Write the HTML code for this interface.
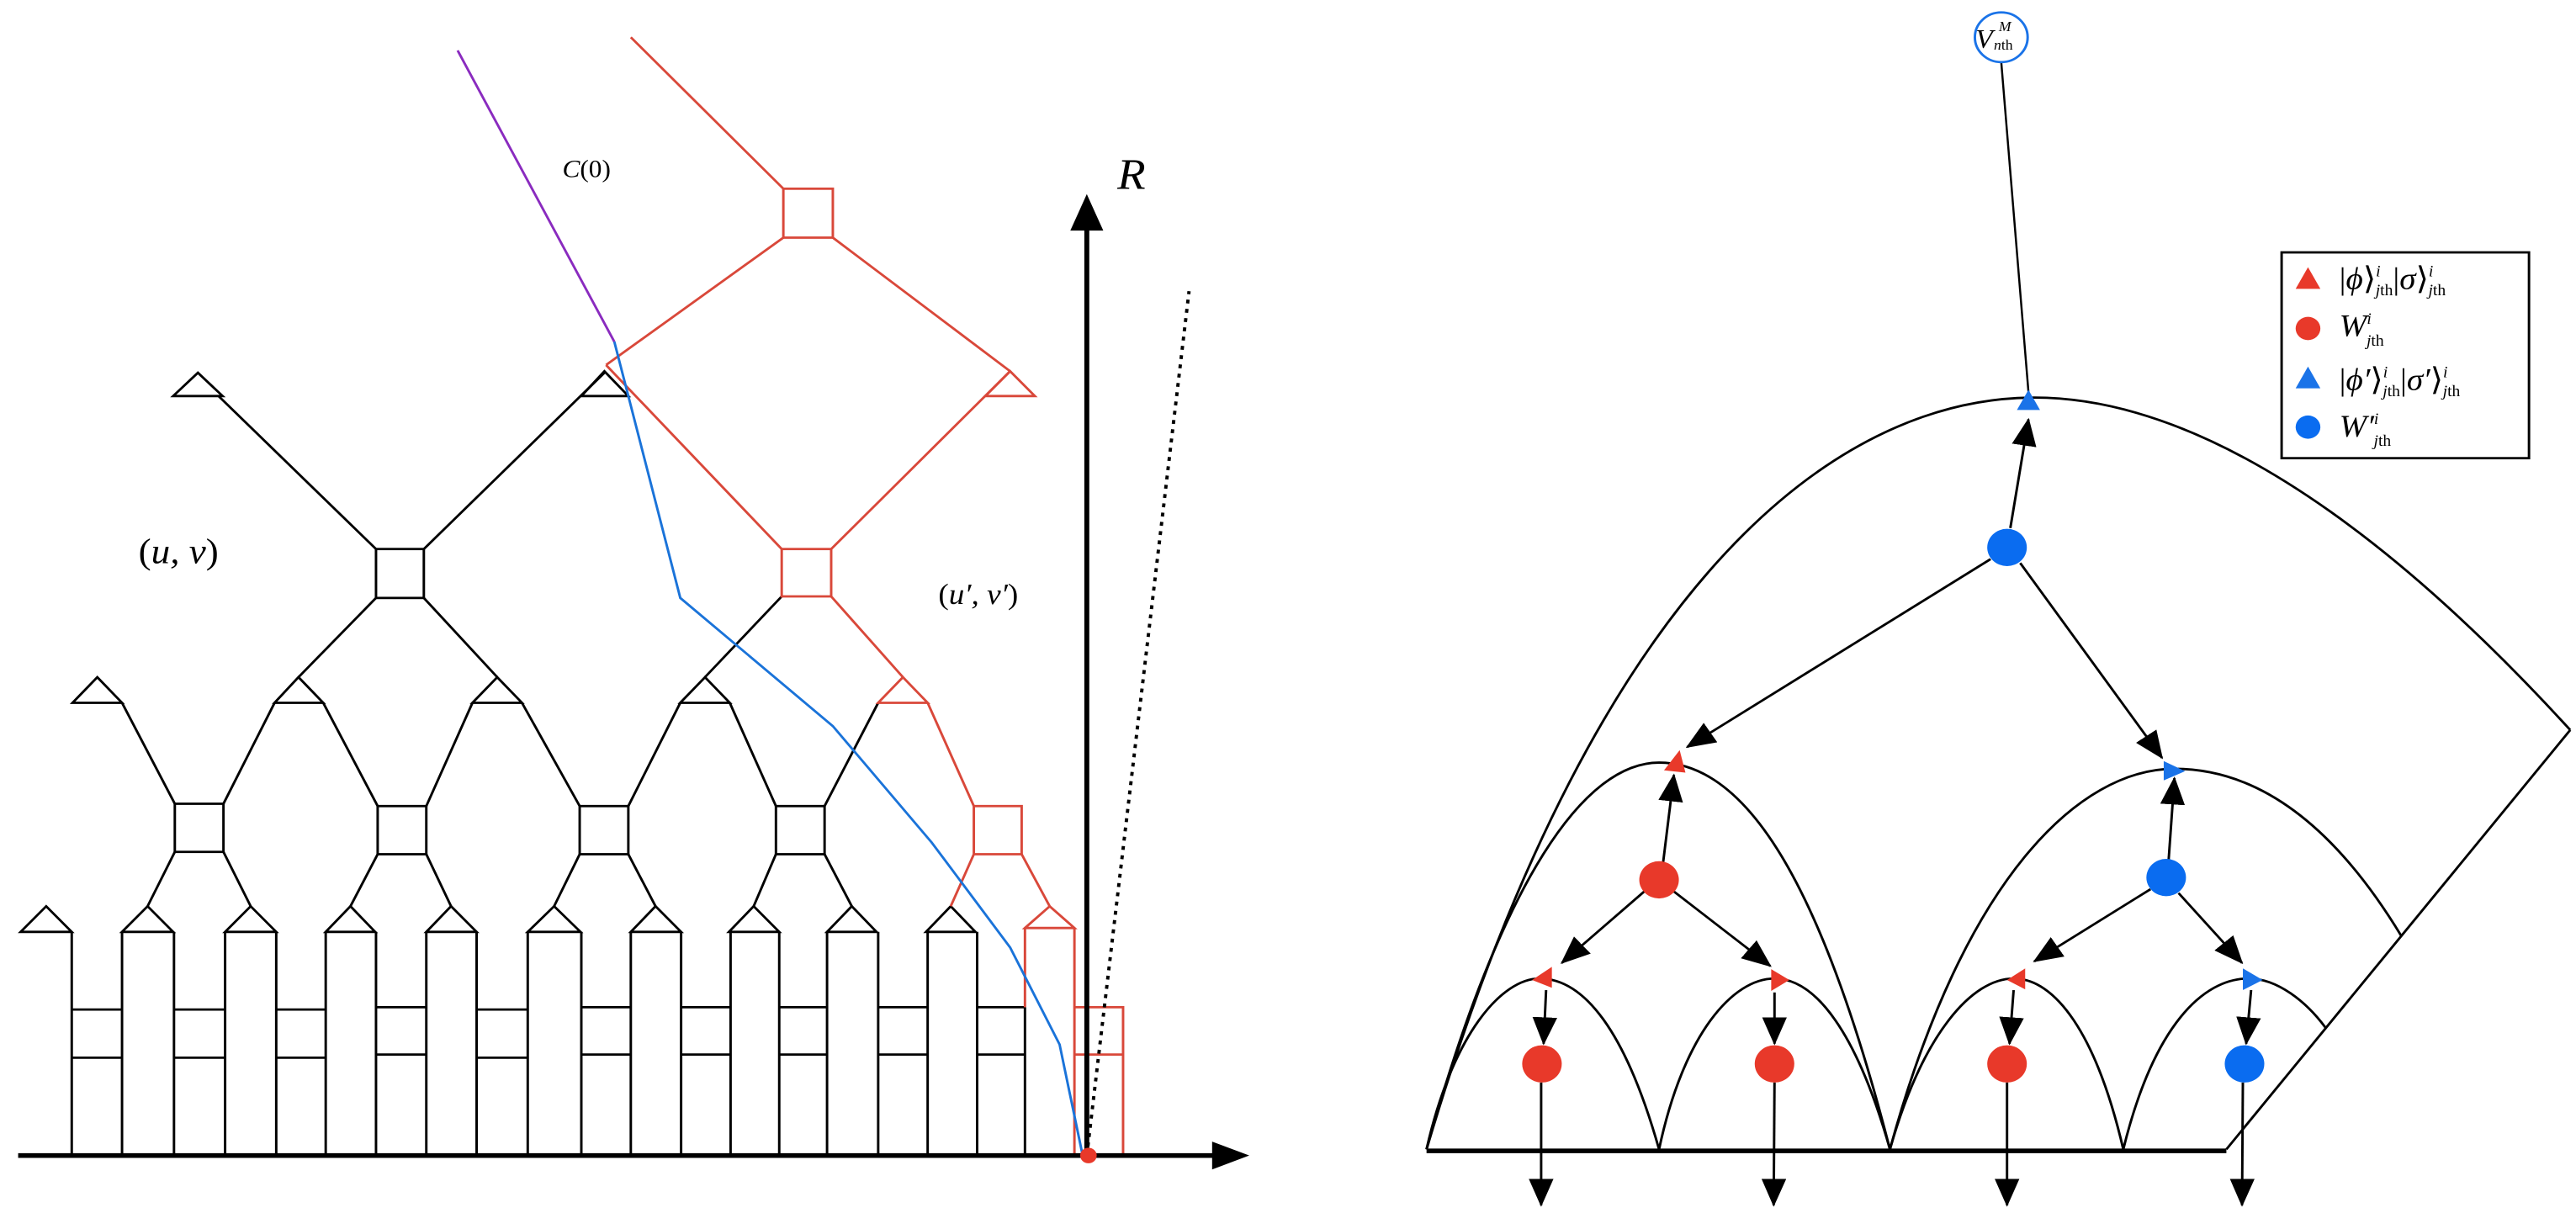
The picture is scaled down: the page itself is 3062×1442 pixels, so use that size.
<!DOCTYPE html>
<html><head><meta charset="utf-8"><style>
html,body{margin:0;padding:0;background:#fff;overflow:hidden;}
svg{display:block;}
text{font-family:"Liberation Serif",serif;font-style:italic;}
</style></head><body>
<svg width="3062" height="1442" viewBox="0 0 3124 1562" preserveAspectRatio="none" xmlns="http://www.w3.org/2000/svg">
<defs>
<marker id="ah" markerWidth="36" markerHeight="30" refX="34" refY="15" orient="auto" markerUnits="userSpaceOnUse"><path d="M0,0 L36,15 L0,30 Z" fill="#000"/></marker>
</defs>
<g fill="none" stroke="#000" stroke-width="3">
<g fill="#fff">
<polygon points="25,1200 56,1167 87,1200"/><polygon points="148,1200 179,1167 210,1200"/><polygon points="273,1200 304,1167 335,1200"/><polygon points="395,1200 425,1167 455,1200"/><polygon points="517,1200 547,1167 578,1200"/><polygon points="640,1200 672,1167 704,1200"/><polygon points="765,1200 795,1167 826,1200"/><polygon points="884,1200 914,1167 945,1200"/><polygon points="1003,1200 1033,1167 1063,1200"/><polygon points="1123,1200 1153,1167 1183,1200"/>
<polygon points="88,905 118,872 148,905"/><polygon points="333,905 362,872 392,905"/><polygon points="573,905 603,872 633,905"/><polygon points="825,905 855,872 885,905"/>
<polygon points="210,510 240,480 270,510"/><polygon points="705,510 733,478 762,510"/>
</g>
<path d="M87,1200V1488M148,1200V1488M211,1200V1488M273,1200V1488M335,1200V1488M395,1200V1488M456,1200V1488M517,1200V1488M578,1200V1488M640,1200V1488M705,1200V1488M765,1200V1488M826,1200V1488M886,1200V1488M945,1200V1488M1003,1200V1488M1065,1200V1488M1125,1200V1488M1185,1200V1488"/>
<path d="M87,1300H148M87,1362H148M211,1300H273M211,1362H273M335,1300H395M335,1362H395M456,1297H517M456,1358H517M578,1300H640M578,1362H640M705,1297H765M705,1358H765M826,1297H886M826,1358H886M945,1297H1003M945,1358H1003M1065,1297H1125M1065,1358H1125M1185,1297H1243M1185,1358H1243M1243,1297V1488"/>
<rect x="212" y="1035" width="59" height="62"/><rect x="458" y="1038" width="59" height="62"/><rect x="703" y="1038" width="59" height="62"/><rect x="941" y="1038" width="59" height="62"/>
<path d="M212,1097L179,1167M271,1097L304,1167M458,1100L425,1167M517,1100L547,1167M703,1100L672,1167M762,1100L795,1167M941,1100L914,1167M1000,1100L1033,1167"/>
<path d="M212,1035L148,905M271,1035L333,905M458,1038L392,905M517,1038L573,905M703,1038L633,905M762,1038L825,905M941,1038L885,905M1000,1038L1065,905"/>
<rect x="456" y="707" width="58" height="63"/>
<path d="M456,707L265,510M514,707L733,480M456,770L362,872M514,770L603,872M948,768L855,872"/>
</g>
<g fill="none" stroke="#d9483a" stroke-width="3">
<polygon fill="#fff" points="1243,1195 1273,1167 1303,1195"/>
<polygon fill="#fff" points="1065,905 1095,872 1125,905"/>
<polygon fill="#fff" points="1195,510 1225,478 1255,510"/>
<path d="M1243,1195V1297M1303,1195V1488M1303,1297H1362V1488M1303,1358H1362"/>
<rect x="1181" y="1038" width="58" height="62"/>
<path d="M1181,1038L1125,905M1181,1100L1153,1167M1239,1100L1273,1167"/>
<rect x="948" y="707" width="60" height="61"/>
<path d="M948,707L735,470M1008,707L1225,478M1008,768L1095,872"/>
<rect x="950" y="243" width="60" height="63"/>
<path d="M950,243L765,48M950,306L735,470M1010,306L1225,478"/>
</g>
<path d="M555,65L745,440" stroke="#8a2bbf" stroke-width="3" fill="none"/>
<path d="M745,440L762,510L825,770L1010,935L1130,1085L1225,1220L1285,1345L1313,1488" stroke="#1a73d9" stroke-width="3" fill="none"/>
<path d="M22,1488H1475" stroke="#000" stroke-width="6"/>
<polygon points="1470,1470 1515,1488 1470,1506" fill="#000"/>
<path d="M1318,1488V290" stroke="#000" stroke-width="6"/>
<polygon points="1298,297 1318,250 1338,297" fill="#000"/>
<path d="M1318,1488L1442,375" stroke="#000" stroke-width="4" stroke-dasharray="5,7" fill="none"/>
<circle cx="1320" cy="1488" r="10" fill="#e8392a"/>
<text x="1355" y="243" font-size="56">R</text>
<text x="682" y="228" font-size="32">C<tspan font-style="normal">(0)</tspan></text>
<text x="168" y="725" font-size="46"><tspan font-style="normal">(</tspan>u, v<tspan font-style="normal">)</tspan></text>
<text x="1138" y="778" font-size="38"><tspan font-style="normal">(</tspan>u′, v′<tspan font-style="normal">)</tspan></text>

<g transform="translate(1562,0)">
<g fill="none" stroke="#000" stroke-width="3">
<path d="M168,1480 C 380,720 680,512 905,512 C 1150,512 1400,760 1555,940"/>
<path d="M1555,940 L1138,1480"/>
<path d="M168,1480 C 260,1130 360,982 450,982 C 560,982 650,1150 730,1480"/>
<path d="M730,1480 C 820,1130 960,990 1075,990 C 1200,990 1290,1100 1350,1205"/>
<path d="M168,1480 C 200,1330 260,1260 305,1260 C 360,1260 410,1330 450,1480"/>
<path d="M450,1480 C 480,1330 540,1260 590,1260 C 640,1260 690,1330 730,1480"/>
<path d="M730,1480 C 770,1330 830,1260 880,1260 C 930,1260 980,1330 1013,1480"/>
<path d="M1013,1480 C 1050,1320 1110,1260 1165,1260 C 1200,1260 1235,1290 1258,1323"/>
<path d="M865,80 L898,505" stroke-width="2.5"/>
</g>
<path d="M168,1482H1138" stroke="#000" stroke-width="6"/>
<g stroke="#000" stroke-width="3" fill="none" marker-end="url(#ah)">
<path d="M876,680 L898,540"/>
<path d="M852,720 L484,962"/>
<path d="M888,725 L1060,976"/>
<path d="M455,1110 L468,998"/>
<path d="M1068,1107 L1075,1002"/>
<path d="M432,1148 L332,1240"/>
<path d="M468,1148 L585,1244"/>
<path d="M1046,1145 L905,1238"/>
<path d="M1080,1150 L1157,1240"/>
<path d="M313,1275 L310,1344"/>
<path d="M590,1278 L590,1344"/>
<path d="M880,1275 L875,1344"/>
<path d="M1168,1275 L1162,1344"/>
<path d="M307,1394 L307,1552"/>
<path d="M590,1394 L589,1552"/>
<path d="M872,1394 L872,1552"/>
<path d="M1158,1394 L1157,1552"/>
</g>
<circle cx="865" cy="48" r="32" fill="#fff" stroke="#1a73e8" stroke-width="3"/>
<text x="834" y="62" font-size="34">V</text><text x="862" y="40" font-size="18">M</text><text x="856" y="64" font-size="18">n<tspan font-style="normal">th</tspan></text>
<polygon points="884,528 898,502 912,528" fill="#1a73e8"/>
<circle cx="872" cy="705" r="24" fill="#0a6cf0"/>
<polygon points="456,992 475,966 482,995" fill="#e8392a"/>
<polygon points="1062,980 1088,993 1062,1005" fill="#1a73e8"/>
<circle cx="450" cy="1133" r="24" fill="#e8392a"/>
<circle cx="1065" cy="1130" r="24" fill="#0a6cf0"/>
<polygon points="296,1262 320,1245 320,1272" fill="#e8392a"/>
<polygon points="586,1248 608,1262 586,1276" fill="#e8392a"/>
<polygon points="872,1262 894,1247 894,1274" fill="#e8392a"/>
<polygon points="1158,1247 1182,1262 1158,1275" fill="#1a73e8"/>
<circle cx="308" cy="1370" r="24" fill="#e8392a"/>
<circle cx="590" cy="1370" r="24" fill="#e8392a"/>
<circle cx="872" cy="1370" r="24" fill="#e8392a"/>
<circle cx="1160" cy="1370" r="24" fill="#0a6cf0"/>
<rect x="1205" y="325" width="300" height="265" fill="#fff" stroke="#000" stroke-width="3"/>
<polygon points="1222,372 1237,344 1252,372" fill="#e8392a"/>
<circle cx="1237" cy="423" r="15" fill="#e8392a"/>
<polygon points="1222,500 1237,472 1252,500" fill="#1a73e8"/>
<circle cx="1237" cy="550" r="15" fill="#0a6cf0"/>
<g font-size="40">
<text x="1275" y="372"><tspan font-style="normal">|</tspan>ϕ<tspan font-style="normal">⟩</tspan><tspan font-size="20" dy="-16">i</tspan><tspan font-size="20" dx="-6" dy="24">j<tspan font-style="normal">th</tspan></tspan><tspan dy="-8" font-style="normal">|</tspan>σ<tspan font-style="normal">⟩</tspan><tspan font-size="20" dy="-16">i</tspan><tspan font-size="20" dx="-6" dy="24">j<tspan font-style="normal">th</tspan></tspan></text>
<text x="1275" y="433">W<tspan font-size="20" dy="-16">i</tspan><tspan font-size="20" dx="-6" dy="28">j<tspan font-style="normal">th</tspan></tspan></text>
<text x="1275" y="502"><tspan font-style="normal">|</tspan>ϕ′<tspan font-style="normal">⟩</tspan><tspan font-size="20" dy="-16">i</tspan><tspan font-size="20" dx="-6" dy="24">j<tspan font-style="normal">th</tspan></tspan><tspan dy="-8" font-style="normal">|</tspan>σ′<tspan font-style="normal">⟩</tspan><tspan font-size="20" dy="-16">i</tspan><tspan font-size="20" dx="-6" dy="24">j<tspan font-style="normal">th</tspan></tspan></text>
<text x="1275" y="562">W′<tspan font-size="20" dy="-16">i</tspan><tspan font-size="20" dx="-6" dy="28">j<tspan font-style="normal">th</tspan></tspan></text>
</g>
</g>
</svg>
</body></html>
